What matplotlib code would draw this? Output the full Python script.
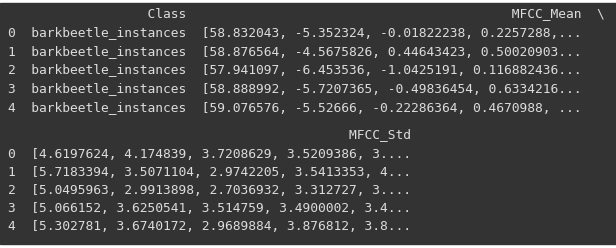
import matplotlib.pyplot as plt

# what the notebook printed for df.head()
index = [0, 1, 2, 3, 4]
classes = ["barkbeetle_instances"] * 5
mfcc_mean = [
    "[58.832043, -5.352324, -0.01822238, 0.2257288,...",
    "[58.876564, -4.5675826, 0.44643423, 0.50020903...",
    "[57.941097, -6.453536, -1.0425191, 0.116882436...",
    "[58.888992, -5.7207365, -0.49836454, 0.6334216...",
    "[59.076576, -5.52666, -0.22286364, 0.4670988, ...",
]
mfcc_std = [
    "[4.6197624, 4.174839, 3.7208629, 3.5209386, 3....",
    "[5.7183394, 3.5071104, 2.9742205, 3.5413353, 4...",
    "[5.0495963, 2.9913898, 2.7036932, 3.312727, 3....",
    "[5.066152, 3.6250541, 3.514759, 3.4900002, 3.4...",
    "[5.302781, 3.6740172, 2.9689884, 3.876812, 3.8...",
]

# build the lines like pandas does (index, 2 spaces, right aligned columns)
w_cls = max(len(c) for c in classes + ["Class"])
w_mean = max(len(m) for m in mfcc_mean + ["MFCC_Mean"])
w_std = max(len(s) for s in mfcc_std + ["MFCC_Std"])

block1 = [" " + "  " + "Class".rjust(w_cls) + "  " + "MFCC_Mean".rjust(w_mean) + "  \\"]
for i, c, m in zip(index, classes, mfcc_mean):
    block1.append(str(i) + "  " + c.rjust(w_cls) + "  " + m.rjust(w_mean))

block2 = [" " + "  " + "MFCC_Std".rjust(w_std)]
for i, s in zip(index, mfcc_std):
    block2.append(str(i) + "  " + s.rjust(w_std))

y1 = [14, 33, 51.5, 70, 89, 107.5]
y2 = [135, 154, 172, 190, 209, 227]

fig = plt.figure(figsize=(6.16, 2.48), dpi=100, facecolor="white")
ax = fig.add_axes([0, 0, 1, 1])
ax.set_xlim(0, 616)
ax.set_ylim(248, 0)
ax.axis("off")
ax.add_patch(plt.Rectangle((0, 3), 616, 241, color="#333333", zorder=0))

for lines, ys in [(block1, y1), (block2, y2)]:
    for line, y in zip(lines, ys):
        ax.text(8, y, line, family="DejaVu Sans Mono", fontsize=9.25,
                color="#dcdcdc", ha="left", va="center")

fig.savefig("out.png", dpi=100, facecolor="white")
